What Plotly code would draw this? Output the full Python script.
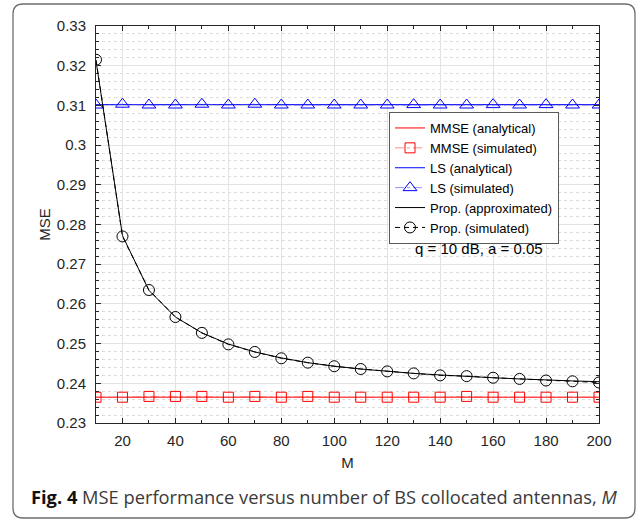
import plotly.graph_objects as go

# ---------------- data ----------------
M = [10, 20, 30, 40, 50, 60, 70, 80, 90, 100, 110, 120, 130, 140, 150, 160, 170, 180, 190, 200]

mmse_analytical = [0.2365, 0.2365, 0.2365, 0.2365, 0.2365, 0.2365, 0.2365, 0.2365, 0.2365, 0.2365,
                   0.2365, 0.2365, 0.2365, 0.2365, 0.2365, 0.2365, 0.2365, 0.2365, 0.2365, 0.2365]
mmse_simulated = [0.2365, 0.2365, 0.2367, 0.2367, 0.2367, 0.2365, 0.2367, 0.2365, 0.2367, 0.2365,
                  0.2365, 0.2365, 0.2365, 0.2365, 0.2367, 0.2365, 0.2365, 0.2365, 0.2365, 0.2365]

ls_analytical = [0.3102, 0.3102, 0.3102, 0.3102, 0.3102, 0.3102, 0.3102, 0.3102, 0.3102, 0.3102,
                 0.3102, 0.3102, 0.3102, 0.3102, 0.3102, 0.3102, 0.3102, 0.3102, 0.3102, 0.3102]
ls_simulated = [0.3101, 0.3103, 0.3101, 0.3101, 0.3103, 0.3101, 0.3103, 0.3101, 0.3101, 0.3101,
                0.3101, 0.3101, 0.3102, 0.3101, 0.3101, 0.3102, 0.3101, 0.3102, 0.3101, 0.3101]

prop_approximated = [0.3212, 0.2772, 0.2634, 0.2567, 0.2527, 0.2499, 0.2479, 0.2464, 0.2452, 0.2443,
                     0.2436, 0.2430, 0.2425, 0.2421, 0.2417, 0.2414, 0.2411, 0.2408, 0.2406, 0.2404]
prop_simulated = [0.3215, 0.2770, 0.2635, 0.2567, 0.2527, 0.2498, 0.2479, 0.2463, 0.2452, 0.2443,
                  0.2436, 0.2430, 0.2425, 0.2420, 0.2418, 0.2414, 0.2411, 0.2407, 0.2405, 0.2402]

x_tickvals = [20, 40, 60, 80, 100, 120, 140, 160, 180, 200]
x_ticktext = ["20", "40", "60", "80", "100", "120", "140", "160", "180", "200"]
y_tickvals = [0.23, 0.24, 0.25, 0.26, 0.27, 0.28, 0.29, 0.30, 0.31, 0.32, 0.33]
y_ticktext = ["0.23", "0.24", "0.25", "0.26", "0.27", "0.28", "0.29", "0.3", "0.31", "0.32", "0.33"]

annotation_text = "q = 10 dB, a = 0.05"
caption_text = "<b style='color:#111111'>Fig. 4</b> MSE performance versus number of BS collocated antennas, <i>M</i>"

# ---------------- layout geometry ----------------
W, H = 637, 519
L, R, T, B = 96, 599, 26, 423


def px(x):
    return (x - L) / (R - L)


def py(y):
    return (B - y) / (B - T)


FONT = "Liberation Sans, Arial, Helvetica, sans-serif"
AX = "#262626"

fig = go.Figure()
fig.add_trace(go.Scatter(x=M, y=mmse_analytical, mode="lines", name="MMSE (analytical)",
                         line=dict(color="#ff0000", width=1)))
fig.add_trace(go.Scatter(x=M, y=mmse_simulated, mode="lines+markers", name="MMSE (simulated)",
                         line=dict(color="rgba(255,70,70,0.6)", width=1, dash="dashdot"),
                         marker=dict(symbol="square-open", size=10, color="#ff0000",
                                     line=dict(width=1, color="#ff0000"))))
fig.add_trace(go.Scatter(x=M, y=ls_analytical, mode="lines", name="LS (analytical)",
                         line=dict(color="#0000ff", width=1)))
fig.add_trace(go.Scatter(x=M, y=ls_simulated, mode="lines+markers", name="LS (simulated)",
                         line=dict(color="rgba(70,70,255,0.6)", width=1, dash="dashdot"),
                         marker=dict(symbol="triangle-up-open", size=12, color="#0000ff",
                                     line=dict(width=1, color="#0000ff"))))
fig.add_trace(go.Scatter(x=M, y=prop_approximated, mode="lines", name="Prop. (approximated)",
                         line=dict(color="#000000", width=1)))
fig.add_trace(go.Scatter(x=M, y=prop_simulated, mode="lines+markers", name="Prop. (simulated)",
                         line=dict(color="#000000", width=1, dash="5px,4px"),
                         marker=dict(symbol="circle-open", size=11, color="#000000",
                                     line=dict(width=1, color="#000000"))))

# rounded outer frame (pixel coords converted to paper)
x0, y0, x1, y1, r = 13, 4, 635, 518, 10
pts = [
    ("M", (x0 + r, y0)), ("L", (x1 - r, y0)), ("Q", (x1, y0), (x1, y0 + r)),
    ("L", (x1, y1 - r)), ("Q", (x1, y1), (x1 - r, y1)), ("L", (x0 + r, y1)),
    ("Q", (x0, y1), (x0, y1 - r)), ("L", (x0, y0 + r)), ("Q", (x0, y0), (x0 + r, y0)),
]
path = ""
for item in pts:
    cmd = item[0]
    coords = " ".join(f"{px(p[0]):.5f},{py(p[1]):.5f}" for p in item[1:])
    path += f"{cmd} {coords} "
path += "Z"

fig.update_layout(
    width=W, height=H,
    margin=dict(l=L, r=W - R, t=T, b=H - B),
    paper_bgcolor="white", plot_bgcolor="white",
    font=dict(family=FONT, size=15, color=AX),
    showlegend=True,
    legend=dict(x=px(389), y=py(112), xanchor="left", yanchor="top",
                bgcolor="white", bordercolor="#5a5a5a", borderwidth=1,
                font=dict(family=FONT, size=13, color="#000000"),
                itemwidth=30, tracegroupgap=0),
    xaxis=dict(range=[10, 200], tickvals=x_tickvals, ticktext=x_ticktext,
               ticks="inside", ticklen=5, tickcolor=AX, tickwidth=1,
               showline=True, linecolor=AX, linewidth=1, mirror="ticks",
               showgrid=True, gridcolor="#e3e3e3", gridwidth=1, zeroline=False,
               tickfont=dict(family=FONT, size=15, color=AX),
               ticklabelstandoff=4,
               minor=dict(tick0=10, dtick=10, ticks="inside", ticklen=3, tickcolor=AX, showgrid=False),
               title=dict(text="M", font=dict(family=FONT, size=15, color=AX), standoff=9)),
    yaxis=dict(range=[0.23, 0.33], tickvals=y_tickvals, ticktext=y_ticktext,
               ticks="inside", ticklen=5, tickcolor=AX, tickwidth=1,
               showline=True, linecolor=AX, linewidth=1, mirror="ticks",
               showgrid=True, gridcolor="#e3e3e3", gridwidth=1, zeroline=False,
               tickfont=dict(family=FONT, size=15, color=AX),
               ticklabelstandoff=6,
               minor=dict(tick0=0.23, dtick=0.002, ticks="inside", ticklen=3, tickcolor=AX,
                          showgrid=True, gridcolor="#dcdcdc", griddash="dot", gridwidth=1),
               title=dict(text="MSE", font=dict(family=FONT, size=15, color=AX), standoff=2)),
    shapes=[dict(type="path", path=path, xref="paper", yref="paper",
                 line=dict(color="#6e6e6e", width=1.3), fillcolor="rgba(0,0,0,0)", layer="below")],
    annotations=[
        dict(text=annotation_text, x=px(479), y=py(248), xref="paper", yref="paper",
             xanchor="center", yanchor="middle", showarrow=False,
             font=dict(family=FONT, size=15, color="#000000")),
        dict(text=caption_text, x=px(29), y=py(496), xref="paper", yref="paper",
             xanchor="left", yanchor="middle", showarrow=False,
             font=dict(family="Open Sans, Noto Sans, sans-serif", size=18.3, color="#3a3a3a")),
    ],
)

fig.write_html("out.html", config={"displayModeBar": False},
               post_script="document.body.style.margin='0px';document.body.style.padding='0px';")
